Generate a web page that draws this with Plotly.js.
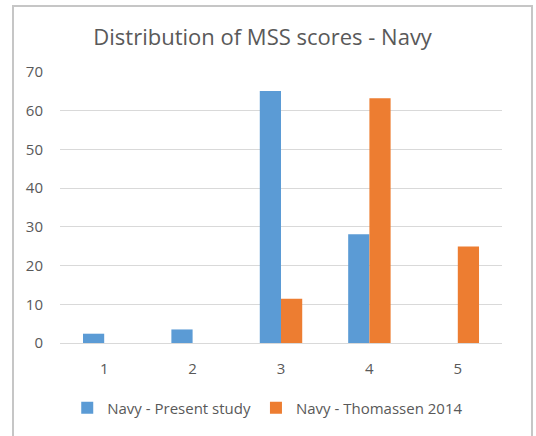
<!DOCTYPE html>
<html>
<head>
<meta charset="utf-8">
<script src="https://cdn.plot.ly/plotly-3.0.1.min.js"></script>
<style>
html,body{margin:0;padding:0;background:#fff;}
#wrap{position:relative;width:536px;height:436px;overflow:hidden;}
#frame{position:absolute;left:12px;top:5px;width:521px;height:440px;border:2px solid #c6c6c6;box-sizing:border-box;pointer-events:none;}
#chart{position:absolute;left:0;top:0;width:536px;height:436px;}
</style>
</head>
<body>
<div id="wrap">
<div id="chart"></div>
<div id="frame"></div>
</div>
<script>
const categories = ["1", "2", "3", "4", "5"];
const presentStudy = [2.4, 3.5, 65.1, 28.1, 0];
const thomassen2014 = [0, 0, 11.4, 63.2, 24.9];
const seriesNames = ["Navy - Present study", "Navy - Thomassen 2014"];
const yTicks = [0, 10, 20, 30, 40, 50, 60, 70];

const font = "Open Sans, Liberation Sans, sans-serif";
const traces = [
  {type: "bar", name: seriesNames[0], x: categories, y: presentStudy,
   marker: {color: "#5B9BD5"}},
  {type: "bar", name: seriesNames[1], x: categories, y: thomassen2014,
   marker: {color: "#ED7D31"}}
];
const layout = {
  width: 536, height: 436,
  margin: {l: 60, r: 34, t: 72, b: 93},
  paper_bgcolor: "#fff", plot_bgcolor: "#fff",
  font: {family: font, color: "#595959", size: 15},
  title: {text: "Distribution of MSS scores - Navy", font: {family: font, size: 22, color: "#595959"},
          x: 0.49, xanchor: "center", y: 1 - 37/436, yanchor: "middle", yref: "container"},
  barmode: "group", bargap: 0.52, bargroupgap: 0,
  xaxis: {type: "category", showgrid: false, zeroline: false, showline: false,
          ticks: "", ticklabelstandoff: 15, tickfont: {size: 15, color: "#595959"}},
  yaxis: {range: [0, 70], tickvals: yTicks, showgrid: true, gridcolor: "#d9d9d9", gridwidth: 1,
          zeroline: true, zerolinecolor: "#d9d9d9", zerolinewidth: 1, showline: false,
          ticks: "", ticklabelstandoff: 16, tickfont: {size: 15, color: "#595959"}},
  legend: {orientation: "h", x: 0.47, xanchor: "center", y: (343-408)/271, yanchor: "middle",
           font: {size: 15, color: "#595959"}, itemwidth: 30, traceorder: "normal"},
  showlegend: true
};
Plotly.newPlot("chart", traces, layout, {displayModeBar: false, staticPlot: true});
</script>
</body>
</html>
